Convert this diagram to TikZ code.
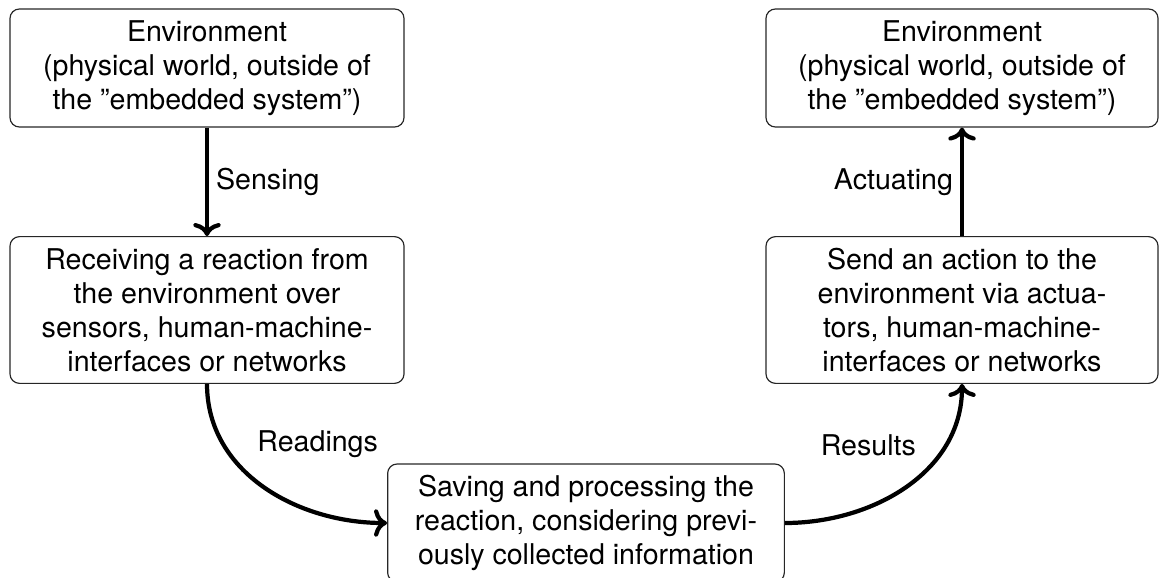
\documentclass[tikz,border=0pt]{standalone}
\usepackage{fontspec}
\setmainfont{TeX Gyre Heros}
\usepackage{tikz}
\usetikzlibrary{arrows.meta,positioning}

\tikzset{
  stagebox/.style={draw=black!85,line width=0.5pt,rounded corners=4pt,align=center,inner sep=2pt,font=\fontsize{12.2}{14.5}\selectfont},
  flow/.style={->,line width=1.8pt},
  flowlabel/.style={font=\fontsize{12.2}{14.5}\selectfont,inner sep=3pt}
}

\begin{document}
\begin{tikzpicture}[x=0.015cm,y=-0.015cm]
\useasboundingbox (0,0) rectangle (1163,578);
\node[stagebox,minimum width=5.91cm,minimum height=1.77cm] (envin) at (207,68) {Environment\\(physical world, outside of\\the ”embedded system”)};
\node[stagebox,minimum width=5.88cm,minimum height=1.77cm] (envout) at (962,68) {Environment\\(physical world, outside of\\the ”embedded system”)};
\node[stagebox,minimum width=5.91cm,minimum height=2.2cm] (recv) at (207,310) {Receiving a reaction from\\the environment over\\sensors, human-machine-\\interfaces or networks};
\node[stagebox,minimum width=5.88cm,minimum height=2.2cm] (send) at (962,310) {Send an action to the\\environment via actua-\\tors, human-machine-\\interfaces or networks};
\node[stagebox,minimum width=5.95cm,minimum height=1.77cm] (proc) at (586,523) {Saving and processing the\\reaction, considering previ-\\ously collected information};
% arrows
\draw[flow] (envin) -- node[flowlabel,right] {Sensing} (recv);
\draw[flow] (recv.south) to[out=-90,in=180] node[flowlabel,pos=0.42,anchor=south west,yshift=0.12cm] {Readings} (proc.west);
\draw[flow] (proc.east) to[out=0,in=-90] node[flowlabel,pos=0.6,anchor=south east,yshift=0.09cm] {Results} (send.south);
\draw[flow] (send) -- node[flowlabel,left] {Actuating} (envout);
\end{tikzpicture}
\end{document}
